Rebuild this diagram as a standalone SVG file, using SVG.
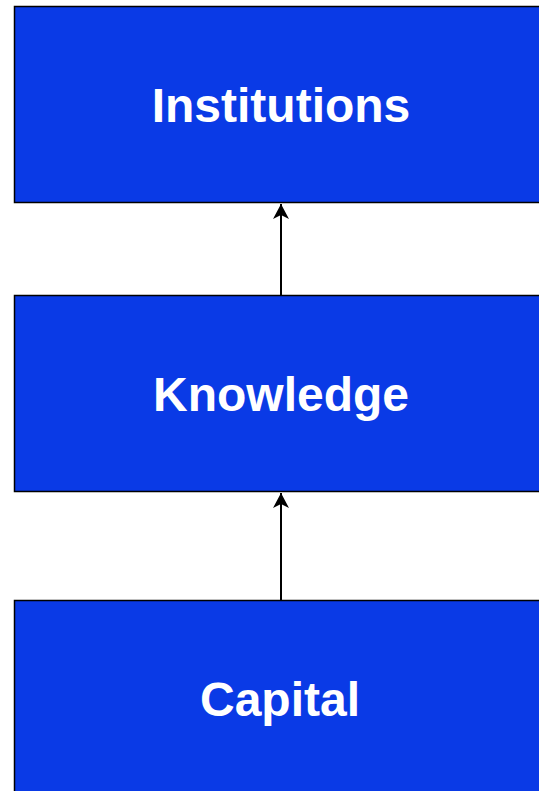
<svg xmlns="http://www.w3.org/2000/svg" width="539" height="791" viewBox="0 0 539 791">
<style>
.box{fill:#0a3ae6;stroke:#000;stroke-width:1.5}
.lbl{font-family:"Liberation Sans",Arial,sans-serif;font-weight:bold;font-size:48px;fill:#fff;text-anchor:middle}
.edge{stroke:#000;stroke-width:2;fill:none}
</style>
<defs>
<marker id="ah" markerUnits="userSpaceOnUse" markerWidth="16" markerHeight="16" refX="15" refY="8" orient="auto">
<path d="M0,0 L15,8 L0,16 L4,8 Z" fill="#000"/>
</marker>
</defs>
<rect width="539" height="791" fill="#fff"/>
<g id="institutions"><rect class="box" x="14.5" y="6.5" width="540" height="196"/><text class="lbl" x="281" y="122">Institutions</text></g>
<g id="knowledge"><rect class="box" x="14.5" y="295.5" width="540" height="196"/><text class="lbl" x="281" y="411">Knowledge</text></g>
<g id="capital"><rect class="box" x="14.5" y="600.5" width="540" height="196"/><text class="lbl" x="280" y="716">Capital</text></g>
<g id="connectors">
<line class="edge" x1="281" y1="295" x2="281" y2="204" marker-end="url(#ah)"/>
<line class="edge" x1="281" y1="600" x2="281" y2="493" marker-end="url(#ah)"/>
</g>
</svg>
